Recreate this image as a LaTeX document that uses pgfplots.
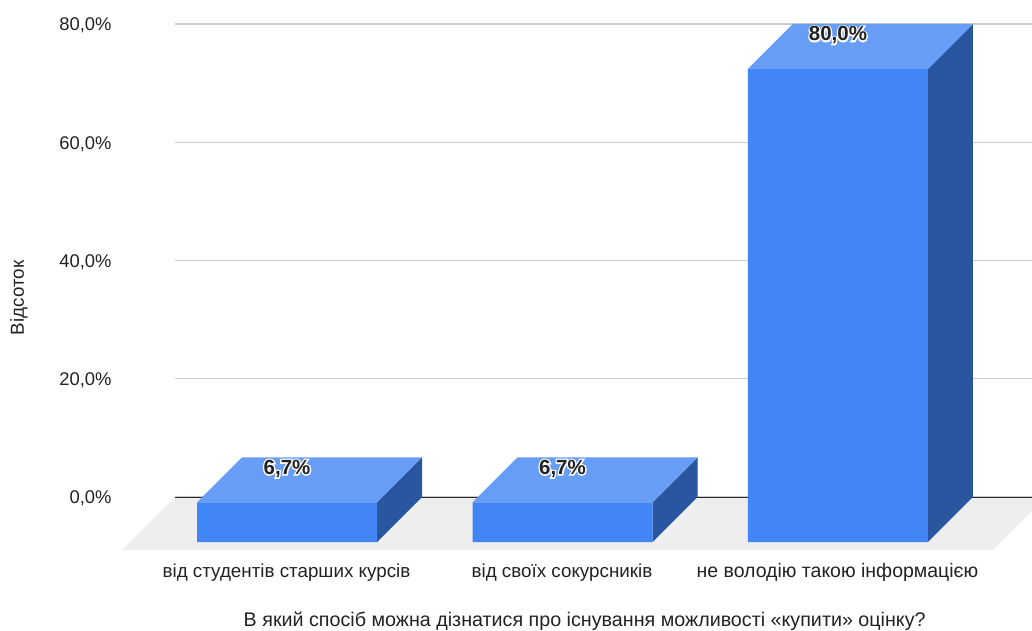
\documentclass[border=0pt]{standalone}
\usepackage{fontspec}
\setmainfont{Liberation Sans}
\newfontfamily\labelfont{Liberation Sans Bold}
\newfontfamily\halofont[FakeBold=14]{Liberation Sans Bold}
\usepackage{pgfplots}
\pgfplotsset{compat=1.18}

\definecolor{front}{HTML}{4285F4}
\definecolor{topface}{HTML}{689DF6}
\definecolor{side}{HTML}{2A56A0}
\definecolor{floorc}{HTML}{EEEEEE}
\definecolor{gridc}{HTML}{CCCCCC}
\definecolor{txt}{HTML}{222222}

\begin{document}
\begin{tikzpicture}[x=1pt,y=1pt]
\useasboundingbox (0,0) rectangle (1032,630);
\begin{axis}[
    at={(175pt,133pt)},
    anchor=south west,
    scale only axis,
    width=857pt,
    height=473pt,
    xmin=-0.57, xmax=2.541,
    ymin=0, ymax=80,
    clip=false,
    axis line style={draw=none},
    major tick length=0pt,
    ymajorgrids,
    grid style={gridc,line width=1.2pt},
    ytick={0,20,40,60,80},
    yticklabels={{0,0\%},{20,0\%},{40,0\%},{60,0\%},{80,0\%}},
    xtick={0,1,2},
    xticklabels={від студентів старших курсів,від своїх сокурсників,{\fontsize{19.5}{20}\selectfont не володію такою інформацією}},
    tick label style={text=txt},
    yticklabel style={font=\fontsize{18.4}{20}\selectfont,anchor=east,xshift=-60pt,yshift=-1.7pt},
    xticklabel style={font=\fontsize{18.8}{20}\selectfont,anchor=base,xshift=-45.5pt,yshift=-80pt},
    label style={text=txt},
    xlabel={В який спосіб можна дізнатися про існування можливості «купити» оцінку?},
    ylabel={Відсоток},
    xlabel style={font=\fontsize{19.7}{22}\selectfont,at={(axis description cs:0.478,-0.2635)},anchor=center},
    ylabel style={font=\fontsize{18.8}{20}\selectfont,at={(axis description cs:-0.182,0.421)},anchor=center},
  ]

% floor
\addplot[draw=none,fill=floorc] coordinates {
    (-0.57,0) (2.541,0) (2.541,-2.37) (2.399,-8.96) (-0.762,-8.96)
  } -- cycle;

% zero line
\addplot[draw=black!85,line width=1pt] coordinates {(-0.57,0) (2.541,0)};

% side faces
\addplot[draw=none,fill=side] coordinates {(0.1634,-0.91) (0.3267,6.7) (0.3267,0) (0.1634,-7.61)} -- cycle;
\addplot[draw=none,fill=side] coordinates {(1.1634,-0.91) (1.3267,6.7) (1.3267,0) (1.1634,-7.61)} -- cycle;
\addplot[draw=none,fill=side] coordinates {(2.1634,72.39) (2.3267,80) (2.3267,0) (2.1634,-7.61)} -- cycle;

% top faces
\addplot[draw=none,fill=topface] coordinates {(-0.49,-0.91) (-0.3267,6.7) (0.3267,6.7) (0.1634,-0.91)} -- cycle;
\addplot[draw=none,fill=topface] coordinates {(0.51,-0.91) (0.6733,6.7) (1.3267,6.7) (1.1634,-0.91)} -- cycle;
\addplot[draw=none,fill=topface] coordinates {(1.51,72.39) (1.6733,80) (2.3267,80) (2.1634,72.39)} -- cycle;

% front faces
\addplot[ybar,bar width=180pt,draw=none,fill=front,xshift=-45pt,yshift=-45pt]
  coordinates {(0,6.7) (1,6.7) (2,80)};

% value labels, white halo first
\addplot[draw=none,mark=none,point meta=explicit symbolic,
    nodes near coords,nodes near coords align={anchor=center},
    every node near coord/.append style={xshift=-45pt,yshift=-11.3pt,text=white,
      font=\halofont\fontsize{20.5}{22}\selectfont}]
  coordinates {(0,6.7)[6,7\%] (1,6.7)[6,7\%] (2,80)[80,0\%]};
\addplot[draw=none,mark=none,point meta=explicit symbolic,
    nodes near coords,nodes near coords align={anchor=center},
    every node near coord/.append style={xshift=-45pt,yshift=-11.3pt,text=txt,
      font=\labelfont\fontsize{20.5}{22}\selectfont}]
  coordinates {(0,6.7)[6,7\%] (1,6.7)[6,7\%] (2,80)[80,0\%]};

\end{axis}
\end{tikzpicture}
\end{document}
